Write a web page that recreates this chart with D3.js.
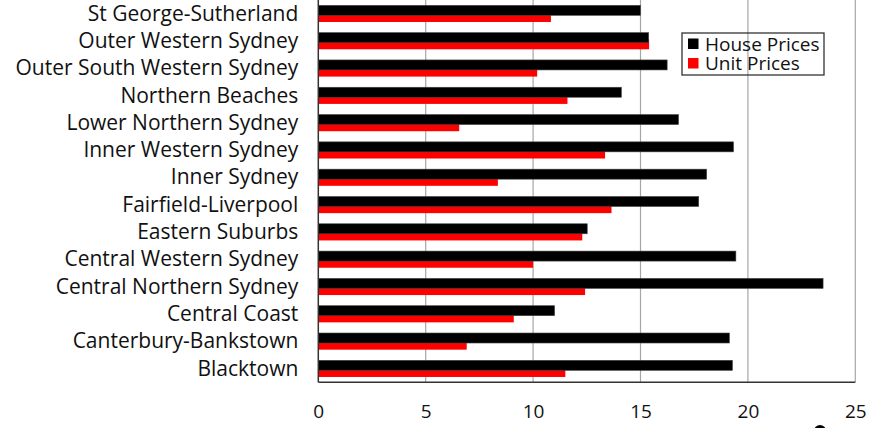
<!DOCTYPE html>
<html>
<head>
<meta charset="utf-8">
<script src="https://cdn.jsdelivr.net/npm/d3@7"></script>
<style>
  html, body { margin: 0; padding: 0; background: #fff; }
  svg { display: block; }
  text { font-family: "Open Sans", sans-serif; fill: #111; }
</style>
</head>
<body>
<svg id="chart" width="894" height="428"></svg>
<script>
// Sydney regions, listed top to bottom
const regions = [
  "St George-Sutherland",
  "Outer Western Sydney",
  "Outer South Western Sydney",
  "Northern Beaches",
  "Lower Northern Sydney",
  "Inner Western Sydney",
  "Inner Sydney",
  "Fairfield-Liverpool",
  "Eastern Suburbs",
  "Central Western Sydney",
  "Central Northern Sydney",
  "Central Coast",
  "Canterbury-Bankstown",
  "Blacktown"
];
const housePrices = [15.0, 15.38, 16.24, 14.11, 16.77, 19.33, 18.08, 17.71, 12.52, 19.44, 23.5, 11.0, 19.14, 19.28];
const unitPrices  = [10.83, 15.4, 10.19, 11.6, 6.56, 13.35, 8.36, 13.65, 12.29, 10.0, 12.42, 9.1, 6.91, 11.5];
const xTicks = [0, 5, 10, 15, 20, 25];
const seriesNames = ["House Prices", "Unit Prices"];
const seriesColors = ["#000000", "#ff0000"];

const FONT = "'Open Sans', sans-serif";

const svg = d3.select("#chart");
const plot = { left: 318.3, right: 855.3, top: 0, bottom: 382.3 };

const x = d3.scaleLinear().domain([0, 25]).range([plot.left, plot.right]);
const y = d3.scaleBand().domain(regions).range([plot.top, plot.bottom])
  .paddingInner(0.39).paddingOuter(0.195);
const bw = y.bandwidth();

// vertical gridlines
svg.append("g").selectAll("line").data(xTicks.filter(d => d > 0)).join("line")
  .attr("x1", d => x(d)).attr("x2", d => x(d))
  .attr("y1", plot.top).attr("y2", plot.bottom)
  .attr("stroke", "#a6a6a6").attr("stroke-width", 1.2);

// unit price bars (sit partly behind the house bars)
svg.append("g").selectAll("rect").data(regions).join("rect")
  .attr("x", x(0))
  .attr("y", d => y(d) + bw * 0.4)
  .attr("width", (d, i) => x(unitPrices[i]) - x(0))
  .attr("height", bw * 0.6)
  .attr("fill", seriesColors[1]);

// house price bars
svg.append("g").selectAll("rect").data(regions).join("rect")
  .attr("x", x(0))
  .attr("y", d => y(d))
  .attr("width", (d, i) => x(housePrices[i]) - x(0))
  .attr("height", bw * 0.6)
  .attr("fill", seriesColors[0])
  .attr("stroke", "#444").attr("stroke-width", 0.6);

// axes lines
svg.append("line").attr("x1", x(0)).attr("x2", x(0))
  .attr("y1", plot.top).attr("y2", plot.bottom)
  .attr("stroke", "#333").attr("stroke-width", 1.5);
svg.append("line").attr("x1", x(0)).attr("x2", x(25))
  .attr("y1", plot.bottom).attr("y2", plot.bottom)
  .attr("stroke", "#333").attr("stroke-width", 1.5);

// category labels
const yAxis = d3.axisLeft(y).tickSize(0).tickPadding(20);
const gy = svg.append("g").attr("transform", `translate(${x(0)},0)`).call(yAxis);
gy.select(".domain").remove();
gy.selectAll("text").attr("font-size", 21).attr("dy", "0.33em")
  .style("font-family", FONT).attr("fill", "#111");

// value axis labels
const xAxis = d3.axisBottom(x).tickValues(xTicks).tickSize(0).tickPadding(22).tickFormat(d3.format("d"));
const gx = svg.append("g").attr("transform", `translate(0,${plot.bottom})`).call(xAxis);
gx.select(".domain").remove();
gx.selectAll("text").attr("font-size", 19)
  .style("font-family", FONT).attr("fill", "#111");

// legend (transparent box, gridline shows through)
const lg = svg.append("g").attr("transform", "translate(682,33)");
lg.append("rect").attr("width", 142).attr("height", 42)
  .attr("fill", "none").attr("stroke", "#333").attr("stroke-width", 1.3);
const items = lg.selectAll("g.item").data(seriesNames).join("g")
  .attr("class", "item")
  .attr("transform", (d, i) => `translate(6,${5.5 + i * 19.5})`);
items.append("rect").attr("width", 10.5).attr("height", 10.5)
  .attr("fill", (d, i) => seriesColors[i]);
items.append("text").attr("x", 17).attr("y", 5.5).attr("dy", "0.36em")
  .attr("font-size", 19).style("font-family", FONT).text(d => d);

// stray bullet at the lower edge
svg.append("circle").attr("cx", 820).attr("cy", 431).attr("r", 6).attr("fill", "#000");
</script>
</body>
</html>
